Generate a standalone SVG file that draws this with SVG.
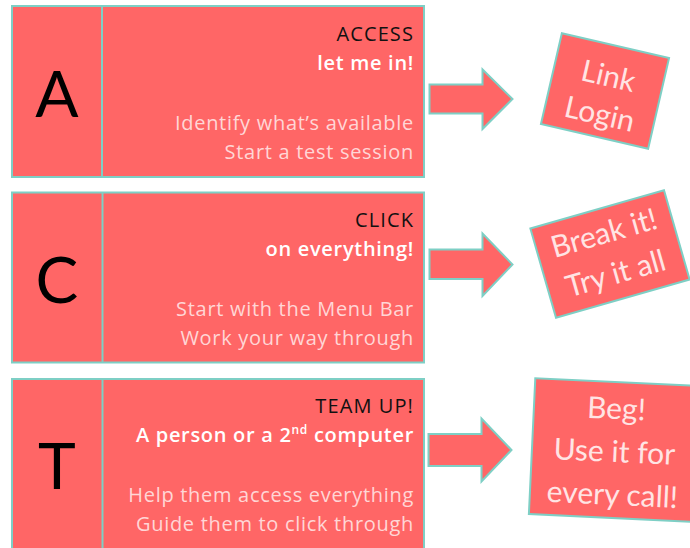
<svg xmlns="http://www.w3.org/2000/svg" width="690" height="548" viewBox="0 0 690 548">
<style>
.box{fill:#FF6666;stroke:#7ECFC5;stroke-width:2}
.div{stroke:#7ECFC5;stroke-width:2}
text{font-family:"Open Sans",Lato,"Liberation Sans",sans-serif}
.letter{font-family:Lato,"Open Sans",sans-serif;font-size:64px;fill:#000;text-anchor:middle}
.title{font-size:20px;fill:#111;text-anchor:end;letter-spacing:1.1px}
.sub{font-size:20px;fill:#fff;text-anchor:end;font-weight:600;letter-spacing:0.7px}
.body{font-size:20px;fill:#FFD6D6;text-anchor:end;letter-spacing:0.7px}
.note{font-family:Lato,"Open Sans",sans-serif;font-size:30px;fill:#FFE4E4;text-anchor:middle}
.arrow{fill:#FF6666;stroke:#7ECFC5;stroke-width:2;stroke-linejoin:miter}
</style>
<rect width="690" height="548" fill="#fff"/>
<g id="node-A">
<rect class="box" x="12" y="6" width="412" height="171"/>
<line class="div" x1="102" y1="6" x2="102" y2="177"/>
<text class="letter" x="57" y="117">A</text>
<text class="title" x="414" y="41">ACCESS</text>
<text class="sub" x="414" y="70">let me in!</text>
<text class="body" x="414" y="130">Identify what’s available</text>
<text class="body" x="414" y="159">Start a test session</text>
</g>
<g id="node-C">
<rect class="box" x="12" y="192.5" width="412" height="170"/>
<line class="div" x1="102.5" y1="192.5" x2="102.5" y2="362.5"/>
<text class="letter" x="57" y="303">C</text>
<text class="title" x="414" y="227">CLICK</text>
<text class="sub" x="414" y="256">on everything!</text>
<text class="body" x="414" y="316">Start with the Menu Bar</text>
<text class="body" x="414" y="345">Work your way through</text>
</g>
<g id="node-T">
<rect class="box" x="12" y="379" width="412" height="175"/>
<line class="div" x1="102.5" y1="379" x2="102.5" y2="554"/>
<text class="letter" x="57" y="489">T</text>
<text class="title" x="414" y="413">TEAM UP!</text>
<text class="sub" x="414" y="442">A person or a 2<tspan font-size="12" dy="-8">nd</tspan><tspan dy="8"> computer</tspan></text>
<text class="body" x="414" y="502">Help them access everything</text>
<text class="body" x="414" y="531">Guide them to click through</text>
</g>
<g id="connectors">
<path class="arrow" d="M429.5,84.5 H482.5 V69.5 L512.5,99 L482.5,129 V113.5 H429.5 Z"/>
<path class="arrow" d="M429.5,249.5 H482.5 V233.5 L512.5,264.5 L482.5,296 V279 H429.5 Z"/>
<path class="arrow" d="M428.5,434 H481.5 V418.5 L511.5,450 L481.5,481.5 V466 H428.5 Z"/>
</g>
<g id="note-link" transform="translate(605,91) rotate(13)">
<rect class="box" x="-55" y="-46.5" width="110" height="93"/>
<text class="note" x="0" y="-5">Link</text>
<text class="note" x="0" y="34">Login</text>
</g>
<g id="note-break" transform="translate(610,254) rotate(-16)">
<rect class="box" x="-69.5" y="-46.5" width="139" height="93"/>
<text class="note" x="0" y="-11.5">Break it!</text>
<text class="note" x="0" y="30.5">Try it all</text>
</g>
<g id="note-beg" transform="translate(614.5,450) rotate(2.7)">
<rect class="box" x="-82.5" y="-68" width="165" height="136"/>
<text class="note" x="0" y="-31" font-size="32">Beg!</text>
<text class="note" x="0" y="12" font-size="33">Use it for</text>
<text class="note" x="0" y="55" font-size="33">every call!</text>
</g>
</svg>
